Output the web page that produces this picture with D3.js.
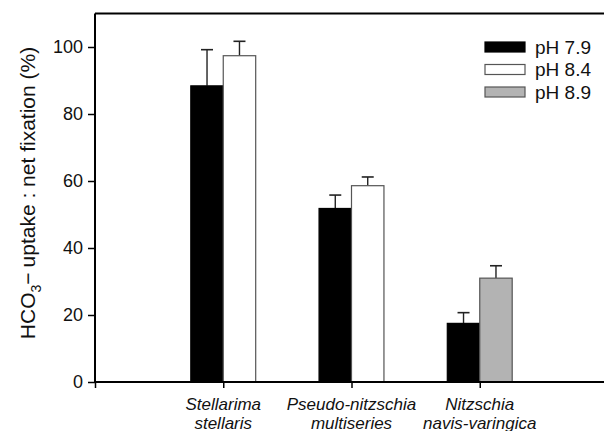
<!DOCTYPE html>
<html><head><meta charset="utf-8">
<script src="https://cdn.jsdelivr.net/npm/d3@7"></script>
<style>body{margin:0;background:#fff}svg{display:block}text{font-family:"Liberation Sans",Arial,sans-serif}</style>
</head><body>
<svg id="c" width="604" height="431"></svg>
<script>
const categories = [["Stellarima","stellaris"],["Pseudo-nitzschia","multiseries"],["Nitzschia","navis-varingica"]];
const seriesNames = ["pH 7.9","pH 8.4","pH 8.9"];
const seriesColors = ["#000000","#ffffff","#b3b3b3"];
const ph79 = [88.4, 51.8, 17.5];
const ph79Err = [10.8, 4.0, 3.2];
const ph84 = [97.4, 58.6, null];
const ph84Err = [4.3, 2.6, null];
const ph89 = [null, null, 31.0];
const ph89Err = [null, null, 3.7];
const yTicks = [0,20,40,60,80,100];

const values = [ph79, ph84, ph89];
const errors = [ph79Err, ph84Err, ph89Err];

const svg = d3.select("#c");
const x = d3.scaleLinear().domain([0,4]).range([95, 608]);
const y = d3.scaleLinear().domain([0,110]).range([382, 13.5]);
const bw = 0.253;

const bars = [];
categories.forEach((c, ci) => {
  let k = 0;
  values.forEach((s, si) => {
    if (s[ci] != null) {
      bars.push({ci, si, v: s[ci], e: errors[si][ci], off: k === 0 ? -bw : 0});
      k++;
    }
  });
});
const g = svg.append("g");
bars.forEach(b => {
  const cx = x(b.ci + 1 + b.off + bw/2);
  g.append("line").attr("x1", cx).attr("x2", cx).attr("y1", y(b.v)).attr("y2", y(b.v + b.e))
    .attr("stroke", "#222").attr("stroke-width", 1.4);
  g.append("line").attr("x1", cx-6).attr("x2", cx+6).attr("y1", y(b.v + b.e)).attr("y2", y(b.v + b.e))
    .attr("stroke", "#222").attr("stroke-width", 1.6);
});
bars.forEach(b => {
  const x0 = x(b.ci + 1 + b.off), x1 = x(b.ci + 1 + b.off + bw);
  g.append("rect").attr("x", x0).attr("width", x1 - x0).attr("y", y(b.v)).attr("height", y(0) - y(b.v))
    .attr("fill", seriesColors[b.si]).attr("stroke", b.si === 0 ? "#000" : "#555").attr("stroke-width", 1.2);
});

svg.append("line").attr("x1", x(0)).attr("x2", 604).attr("y1", y(110)).attr("y2", y(110))
  .attr("stroke", "#000").attr("stroke-width", 2);

const ya = svg.append("g").attr("transform", `translate(${x(0)},0)`)
  .call(d3.axisLeft(y).tickValues(yTicks).tickSize(7).tickPadding(5));
ya.select(".domain").attr("stroke-width", 2).attr("d", `M0,${y(0)}V${y(110)}`);
ya.selectAll(".tick line").attr("stroke-width", 1.5);
ya.selectAll("text").attr("font-size", 18).attr("fill", "#111").style("font-family", '"Liberation Sans",Arial,sans-serif');

const xa = svg.append("g").attr("transform", `translate(0,${y(0)})`)
  .call(d3.axisBottom(x).tickValues([0,1,2,3,4]).tickSize(6).tickFormat(""));
xa.select(".domain").attr("stroke-width", 2).attr("d", `M${x(0)},0H${x(4)}`);
xa.selectAll(".tick line").attr("stroke-width", 1.5);

categories.forEach((c, ci) => {
  const t = svg.append("text").attr("x", x(ci+1)).attr("y", 410).attr("text-anchor", "middle")
    .attr("font-size", 17).attr("font-style", "italic").attr("fill", "#111");
  t.append("tspan").attr("x", x(ci+1)).attr("dy", 0).text(c[0]);
  t.append("tspan").attr("x", x(ci+1)).attr("dy", 18.5).text(c[1]);
});

const yt = svg.append("text").attr("transform", "translate(35,193) rotate(-90)").attr("text-anchor", "middle")
  .attr("font-size", 21).attr("fill", "#111");
yt.append("tspan").text("HCO");
yt.append("tspan").attr("font-size", 14).attr("dy", 6).text("3");
yt.append("tspan").attr("dy", -6).attr("font-size", 21).text("\u2212");
yt.append("tspan").attr("dx", 5).text("uptake : net fixation (%)");

seriesNames.forEach((n, i) => {
  const yy = 42 + i * 22.5;
  svg.append("rect").attr("x", 485).attr("y", yy).attr("width", 40).attr("height", 10)
    .attr("fill", seriesColors[i]).attr("stroke", i === 0 ? "#000" : "#555").attr("stroke-width", 1.2);
  svg.append("text").attr("x", 535).attr("y", yy + 11.5).attr("font-size", 19).attr("fill", "#111").text(n);
});
</script>
</body></html>
